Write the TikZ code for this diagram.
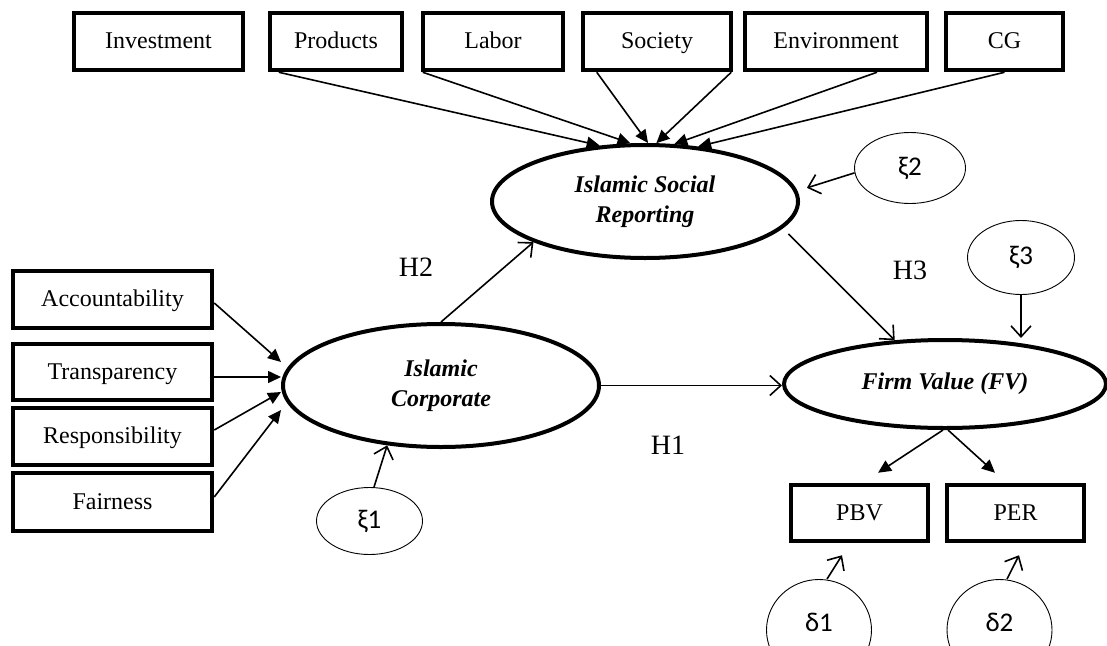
\documentclass[tikz,border=0pt]{standalone}
\usepackage{fontspec}
\setmainfont{Liberation Serif}
\newfontfamily\grk{Carlito}
\usetikzlibrary{arrows.meta,shapes.geometric}
\begin{document}
\begin{tikzpicture}[x=1pt,y=-1pt,
  box/.style={draw, rectangle, line width=4.5pt, inner sep=0pt, text height=17pt, text depth=3pt, font=\fontsize{24}{28}\selectfont},
  lat/.style={draw, ellipse, line width=4pt, inner sep=0pt, align=center, font=\fontsize{24}{30}\selectfont\bfseries\itshape},
  err/.style={draw, ellipse, line width=0.9pt, inner sep=0pt, font=\grk\fontsize{27}{30}\selectfont},
  errtext/.style={inner sep=0pt, font=\grk\fontsize{27}{30}\selectfont},
  hyp/.style={inner sep=0pt, font=\fontsize{28}{32}\selectfont},
  conn/.style={line width=1.6pt},
  solidarr/.style={conn, -{Triangle[length=13pt,width=12pt]}},
  openarr/.style={conn, -{Straight Barb[length=11pt,width=20pt]}},
]
\clip (0,0) rectangle (1107,645);

% top indicator boxes
\node[box, minimum width=169pt, minimum height=57pt] (inv) at (158.5,41.5) {Investment};
\node[box, minimum width=132pt, minimum height=57pt] (prod) at (336,41.5) {Products};
\node[box, minimum width=140pt, minimum height=57pt] (lab) at (493,41.5) {Labor};
\node[box, minimum width=148pt, minimum height=57pt] (soc) at (657,41.5) {Society};
\node[box, minimum width=182pt, minimum height=57pt] (env) at (836,41.5) {Environment};
\node[box, minimum width=117pt, minimum height=57pt] (cg) at (1004.5,41.5) {CG};

% left indicator boxes
\node[box, minimum width=199pt, minimum height=57pt] (acc) at (112.5,299.5) {Accountability};
\node[box, minimum width=199pt, minimum height=56pt] (tra) at (112.5,372) {Transparency};
\node[box, minimum width=199pt, minimum height=57pt] (res) at (112.5,436.5) {Responsibility};
\node[box, minimum width=199pt, minimum height=58pt] (fai) at (112.5,502) {Fairness};

% bottom indicator boxes
\node[box, minimum width=137pt, minimum height=56pt] (pbv) at (859.5,513) {PBV};
\node[box, minimum width=137pt, minimum height=56pt] (per) at (1015.5,513) {PER};

% latent variables
\node[lat, minimum width=306pt, minimum height=113pt] (isr) at (645,201.5) {Islamic Social\\Reporting};
\node[lat, minimum width=316pt, minimum height=123pt] (ic) at (441,385.5) {Islamic\\Corporate};
\node[lat, minimum width=322pt, minimum height=88pt] (fv) at (945,384) {Firm Value (FV)};

% error terms
\node[err, minimum width=106pt, minimum height=67pt] (xi1) at (369.5,521) {ξ1};
\node[err, minimum width=111pt, minimum height=71pt] (xi2) at (910,168) {ξ2};
\node[err, minimum width=107pt, minimum height=74pt] (xi3) at (1021,257.5) {ξ3};
\node[err, minimum width=105pt, minimum height=101pt] (d1) at (819,630) {};
\node[err, minimum width=105pt, minimum height=101pt] (d2) at (999.5,630) {};
\node[errtext] (d1t) at (819,622) {δ1};
\node[errtext] (d2t) at (999.5,622) {δ2};

% hypothesis labels
\node[hyp] (h1) at (668,445) {H1};
\node[hyp] (h2) at (416,267) {H2};
\node[hyp] (h3) at (910,270) {H3};

% indicators -> ISR
\draw[solidarr] ([xshift=11pt]prod.south west) -- (isr.129.8);
\draw[solidarr] ([xshift=2pt]lab.south west) -- (isr.104.8);
\draw[solidarr] ([xshift=16pt]soc.south west) -- (isr.87.2);
\draw[solidarr] ([xshift=-2pt]soc.south east) -- (isr.79.9);
\draw[solidarr] ([xshift=41pt]env.south) -- (isr.63.2);
\draw[solidarr] (cg.south) -- (isr.46.8);

% indicators -> IC
\draw[solidarr] ([yshift=-3.5pt]acc.east) -- ([yshift=23.5pt]ic.west);
\draw[solidarr] ([yshift=-5pt]tra.east) -- ([yshift=8.5pt]ic.west);
\draw[solidarr] ([yshift=6.5pt]res.east) -- ([yshift=-6.5pt]ic.west);
\draw[solidarr] ([yshift=5pt]fai.east) -- ([yshift=-24.5pt]ic.west);

% FV -> indicators
\draw[solidarr] ([xshift=-2pt]fv.south) -- ([xshift=18.5pt,yshift=10pt]pbv.north);
\draw[solidarr] ([xshift=3pt]fv.south) -- ([xshift=-20.5pt,yshift=10pt]per.north);

% structural paths
\draw[openarr] (ic.north) -- (isr.200);
\draw[openarr] (ic.east) -- (ic.east -| fv.west);
\draw[openarr, shorten <=8pt] (isr.-11) -- (fv.139.5);

% error arrows
\draw[openarr] ([xshift=4.5pt]xi1.north) -- (ic.228.5);
\draw[openarr, shorten >=10pt] (xi2.185) -- (isr.4);
\draw[openarr] (xi3.south) -- (xi3.south |- fv.north);
\draw[openarr] ([xshift=8pt]d1.north) -- ([xshift=-17.5pt,yshift=-12pt]pbv.south);
\draw[openarr] ([xshift=7.5pt]d2.north) -- ([xshift=3.5pt,yshift=-12pt]per.south);
\end{tikzpicture}
\end{document}
